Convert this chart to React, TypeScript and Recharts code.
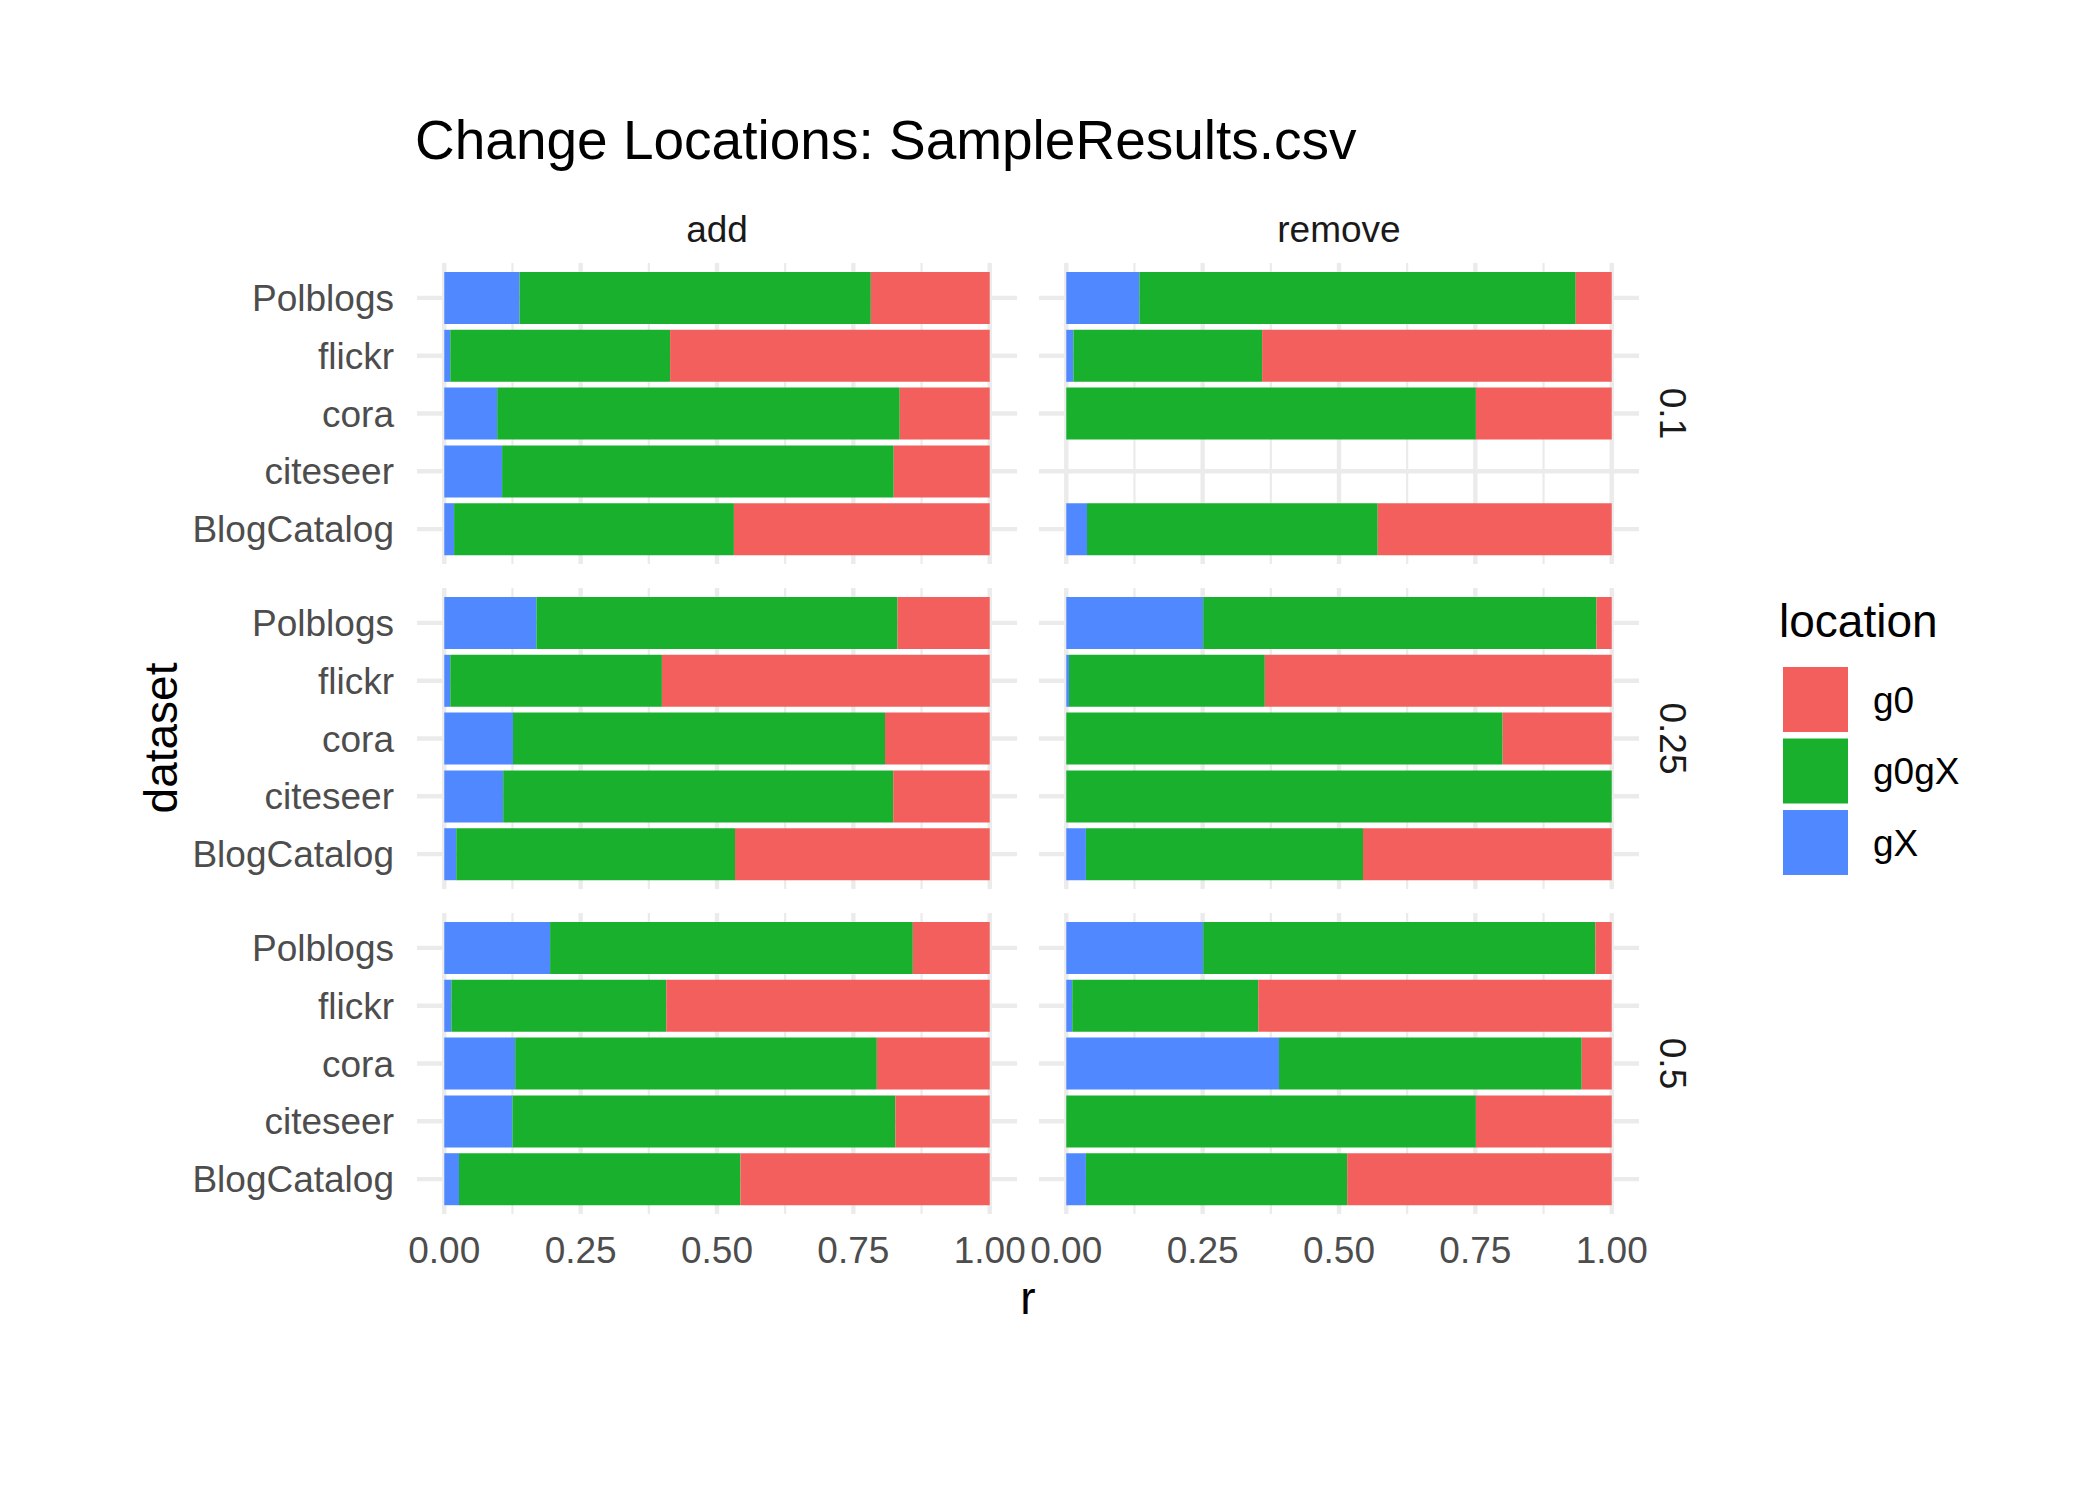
import React from "react";
import { BarChart, Bar, XAxis, YAxis, CartesianGrid } from "recharts";

const DATASETS = ["Polblogs", "flickr", "cora", "citeseer", "BlogCatalog"];
const CHANGES = ["add", "remove"];
const RATES = ["0.1", "0.25", "0.5"];
const LOCATIONS = ["g0", "g0gX", "gX"];
const LOCATION_COLORS = ["#F25F5C", "#19B02E", "#5088FF"];
const X_TICKS = [0, 0.25, 0.5, 0.75, 1];
const X_MINOR = [0.125, 0.375, 0.625, 0.875];

// share of changes per location, rows in DATASETS order
const ADD_01_GX = [0.138, 0.011, 0.097, 0.106, 0.018];
const ADD_01_G0GX = [0.644, 0.403, 0.738, 0.718, 0.513];
const ADD_01_G0 = [0.218, 0.586, 0.165, 0.176, 0.469];

const REMOVE_01_GX = [0.134, 0.013, 0, null, 0.038];
const REMOVE_01_G0GX = [0.8, 0.346, 0.751, null, 0.533];
const REMOVE_01_G0 = [0.066, 0.641, 0.249, null, 0.429];

const ADD_025_GX = [0.169, 0.011, 0.126, 0.108, 0.022];
const ADD_025_G0GX = [0.662, 0.388, 0.682, 0.715, 0.511];
const ADD_025_G0 = [0.169, 0.601, 0.192, 0.177, 0.467];

const REMOVE_025_GX = [0.251, 0.005, 0, 0, 0.036];
const REMOVE_025_G0GX = [0.721, 0.359, 0.8, 1, 0.508];
const REMOVE_025_G0 = [0.028, 0.636, 0.2, 0, 0.456];

const ADD_05_GX = [0.194, 0.013, 0.13, 0.125, 0.027];
const ADD_05_G0GX = [0.665, 0.394, 0.663, 0.702, 0.516];
const ADD_05_G0 = [0.141, 0.593, 0.207, 0.173, 0.457];

const REMOVE_05_GX = [0.251, 0.011, 0.39, 0, 0.036];
const REMOVE_05_G0GX = [0.719, 0.341, 0.555, 0.751, 0.479];
const REMOVE_05_G0 = [0.03, 0.648, 0.055, 0.249, 0.485];

const PANEL_VALUES: Record<string, (number | null)[][]> = {
  "add|0.1": [ADD_01_GX, ADD_01_G0GX, ADD_01_G0],
  "remove|0.1": [REMOVE_01_GX, REMOVE_01_G0GX, REMOVE_01_G0],
  "add|0.25": [ADD_025_GX, ADD_025_G0GX, ADD_025_G0],
  "remove|0.25": [REMOVE_025_GX, REMOVE_025_G0GX, REMOVE_025_G0],
  "add|0.5": [ADD_05_GX, ADD_05_G0GX, ADD_05_G0],
  "remove|0.5": [REMOVE_05_GX, REMOVE_05_G0GX, REMOVE_05_G0],
};

function panelRows(change: string, rate: string) {
  const [gx, g0gx, g0] = PANEL_VALUES[`${change}|${rate}`];
  return DATASETS.map((dataset, i) => ({
    dataset,
    gX: gx[i],
    g0gX: g0gx[i],
    g0: g0[i],
  }));
}

const FONT = '"Liberation Sans", Arial, Helvetica, sans-serif';
const GRID = "#EBEBEB";
const PANEL_W = 600;
const PANEL_H = 301;
const COL_X = [417, 1039];
const ROW_Y = [263, 588, 913];
const YAXIS_W = 300;
const XAXIS_H = 80;

// horizontal grid at the middle of each category band (ggplot style)
const bandCentres = ({ yAxis }: any) => {
  const s = yAxis?.scale;
  if (!s) return [];
  const f = typeof s === "function" ? s : (v: string) => s.map(v);
  const bw = typeof s.bandwidth === "function" ? s.bandwidth() : 0;
  return DATASETS.map((d) => f(d) + bw / 2);
};

function Panel({ change, rate, col, row }: { change: string; rate: string; col: number; row: number }) {
  const left = col === 0;
  const bottom = row === RATES.length - 1;
  const w = PANEL_W + (left ? YAXIS_W : 0);
  const h = PANEL_H + (bottom ? XAXIS_H : 0);
  const stackOrder = ["gX", "g0gX", "g0"];

  return (
    <div style={{ position: "absolute", left: COL_X[col] - (left ? YAXIS_W : 0), top: ROW_Y[row] }}>
      <BarChart
        width={w}
        height={h}
        data={panelRows(change, rate)}
        layout="vertical"
        margin={{ top: 0, right: 0, bottom: 0, left: 0 }}
      >
        <CartesianGrid horizontal={false} verticalValues={X_MINOR} stroke={GRID} strokeWidth={2.2} />
        <CartesianGrid vertical={false} horizontalCoordinatesGenerator={bandCentres} stroke={GRID} strokeWidth={4.4} />
        <CartesianGrid horizontal={false} verticalValues={X_TICKS} stroke={GRID} strokeWidth={4.4} />
        <XAxis
          type="number"
          domain={[-0.05, 1.05]}
          allowDataOverflow
          ticks={X_TICKS}
          interval={0}
          hide={!bottom}
          height={XAXIS_H}
          axisLine={false}
          tickLine={false}
          tickSize={0}
          tickMargin={23}
          tick={{ fill: "#4D4D4D", fontSize: 37 }}
          tickFormatter={(v: number) => v.toFixed(2)}
        />
        <YAxis
          type="category"
          dataKey="dataset"
          hide={!left}
          width={YAXIS_W}
          padding={{ top: 6, bottom: 6 }}
          axisLine={false}
          tickLine={false}
          tickSize={0}
          tickMargin={23}
          interval={0}
          tick={{ fill: "#4D4D4D", fontSize: 37 }}
        />
        {stackOrder.map((key) => (
          <Bar
            key={key}
            dataKey={key}
            stackId="loc"
            barSize={52}
            fill={LOCATION_COLORS[LOCATIONS.indexOf(key)]}
            isAnimationActive={false}
          />
        ))}
      </BarChart>
    </div>
  );
}

export default function App() {
  return (
    <div
      style={{
        position: "absolute",
        left: 0,
        top: 0,
        width: 2100,
        height: 1500,
        background: "#fff",
        fontFamily: FONT,
        overflow: "hidden",
      }}
    >
      <style>{`.recharts-surface{overflow:visible}`}</style>
      {RATES.map((rate, row) =>
        CHANGES.map((change, col) => (
          <Panel key={`${change}-${rate}`} change={change} rate={rate} col={col} row={row} />
        ))
      )}
      <svg
        width={2100}
        height={1500}
        style={{ position: "absolute", left: 0, top: 0, pointerEvents: "none" }}
        fontFamily={FONT}
      >
        <text x={415} y={159} fontSize={55} fill="#000">
          Change Locations: SampleResults.csv
        </text>
        {CHANGES.map((c, i) => (
          <text key={c} x={COL_X[i] + PANEL_W / 2} y={242} fontSize={37} fill="#1A1A1A" textAnchor="middle">
            {c}
          </text>
        ))}
        {RATES.map((r, i) => {
          const cy = ROW_Y[i] + PANEL_H / 2;
          return (
            <text
              key={r}
              x={1660}
              y={cy}
              fontSize={37}
              fill="#1A1A1A"
              textAnchor="middle"
              transform={`rotate(90, 1660, ${cy})`}
            >
              {r}
            </text>
          );
        })}
        <text x={1028} y={1314} fontSize={46} fill="#000" textAnchor="middle">
          r
        </text>
        <text x={177} y={738} fontSize={46} fill="#000" textAnchor="middle" transform="rotate(-90, 177, 738)">
          dataset
        </text>
        <text x={1779} y={637} fontSize={46} fill="#000">
          location
        </text>
        {LOCATIONS.map((loc, i) => {
          const top = 667 + i * 71.5;
          return (
            <g key={loc}>
              <rect x={1783} y={top} width={65} height={65} fill={LOCATION_COLORS[i]} />
              <text x={1873} y={top + 45.5} fontSize={37} fill="#000">
                {loc}
              </text>
            </g>
          );
        })}
      </svg>
    </div>
  );
}
